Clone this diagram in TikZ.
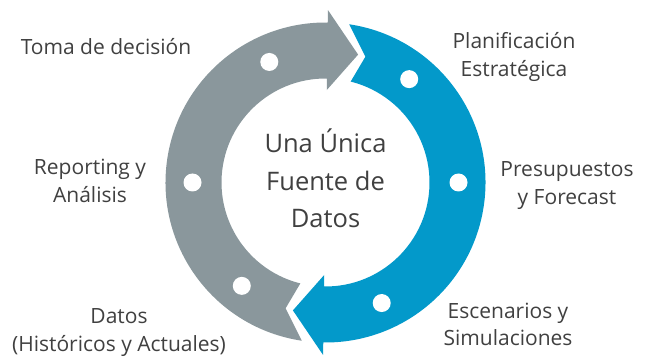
\documentclass[tikz,border=0pt]{standalone}
\usepackage{fontspec}
\setmainfont{Open Sans}
\definecolor{ringgray}{HTML}{8A979C}
\definecolor{ringblue}{HTML}{0399CA}
\definecolor{txt}{HTML}{404040}
\begin{document}
\begin{tikzpicture}[x=1pt,y=1pt,
  lbl/.style={text=txt,font=\fontsize{21}{27.5}\selectfont,anchor=base,inner sep=0pt},
  hub/.style={text=txt,font=\fontsize{25.5}{37.5}\selectfont,anchor=base,inner sep=0pt},
  dot/.style={circle,fill=white,minimum size=18pt,inner sep=0pt}]
\useasboundingbox (0,0) rectangle (647,356);
\coordinate (C) at (325.5,173.5);
\begin{scope}[shift={(C)}]
  \fill[ringgray] (261.5:160) arc[start angle=261.5,end angle=89.2,radius=160]
    -- (89.2:172.5) -- (75.7:132) -- (89.2:92.5) -- (89.2:104)
    arc[start angle=89.2,end angle=256,radius=104] -- (252.4:132) -- cycle;
  \fill[ringblue] (81.5:160) arc[start angle=81.5,end angle=-90.8,radius=160]
    -- (-90.8:172.5) -- (-104.3:132) -- (-90.8:92.5) -- (-90.8:104)
    arc[start angle=-90.8,end angle=76,radius=104] -- (72.4:132) -- cycle;
  \node[dot] (g1) at (231:133) {};
  \node[dot] (g2) at (180:133) {};
  \node[dot] (g3) at (115:133) {};
  \node[dot] (b1) at (51:133) {};
  \node[dot] (b2) at (0:133) {};
  \node[dot] (b3) at (-65:133) {};
\end{scope}
\node[hub] (hub) at (325.5,203) {\begin{tabular}[t]{@{}c@{}}Una Única\\Fuente de\\Datos\end{tabular}};
\node[lbl] (toma) at (106,301) {Toma de decisión};
\node[lbl] (plan) at (514,307) {\begin{tabular}[t]{@{}c@{}}Planificación\\Estratégica\end{tabular}};
\node[lbl] (rep) at (90,181) {\begin{tabular}[t]{@{}c@{}}Reporting y\\Análisis\end{tabular}};
\node[lbl] (pres) at (567,179) {\begin{tabular}[t]{@{}c@{}}Presupuestos\\y Forecast\end{tabular}};
\node[lbl] (datos) at (119,32.5) {\begin{tabular}[t]{@{}c@{}}Datos\\(Históricos y Actuales)\end{tabular}};
\node[lbl] (esc) at (508,38) {\begin{tabular}[t]{@{}c@{}}Escenarios y\\Simulaciones\end{tabular}};
\end{tikzpicture}
\end{document}
